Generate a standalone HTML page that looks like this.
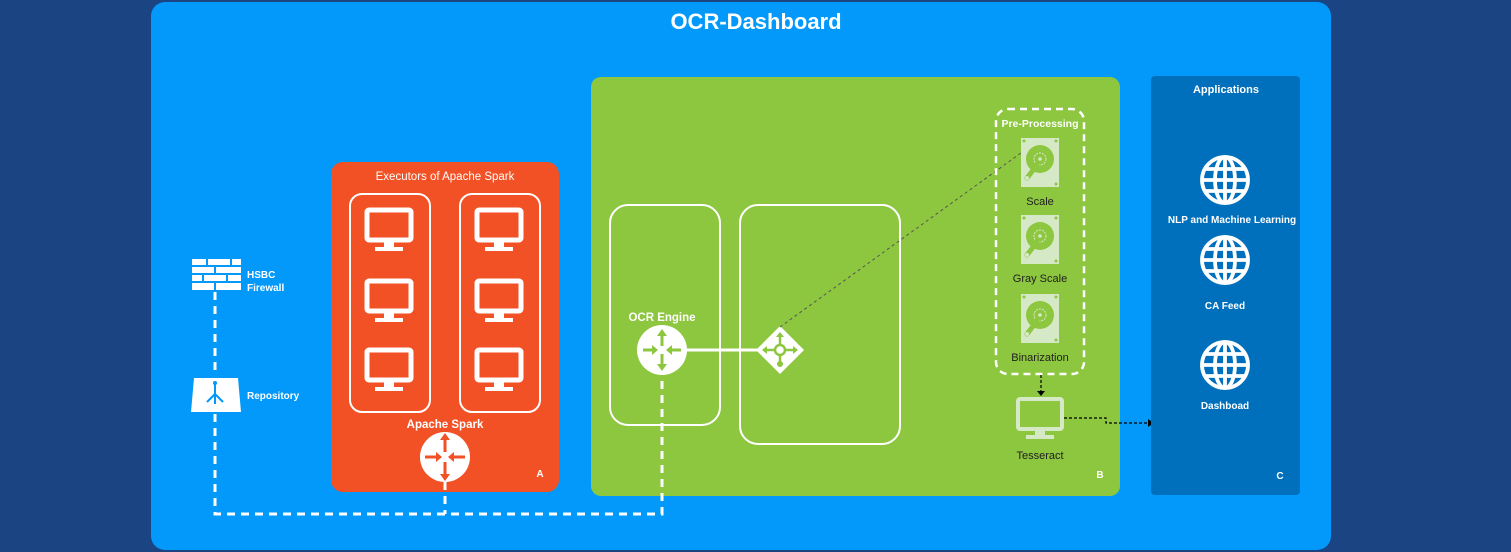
<!DOCTYPE html>
<html><head><meta charset="utf-8"><style>
html,body{margin:0;padding:0;background:#1b4482;width:1511px;height:552px;overflow:hidden}
svg{display:block}
text{font-family:"Liberation Sans",Arial,sans-serif;fill:#fff}
</style></head><body>
<svg width="1511" height="552" viewBox="0 0 1511 552" xmlns="http://www.w3.org/2000/svg">
<defs>
<g id="mon"><rect x="2" y="2" width="44" height="30" rx="2" fill="none" stroke="#fff" stroke-width="5"/><rect x="19" y="33" width="10" height="6" fill="#fff"/><rect x="10" y="39" width="28" height="4" fill="#fff"/></g>
<g id="globe" fill="none" stroke="#fff" stroke-width="3.8"><circle r="23"/><ellipse rx="10" ry="23"/><line x1="0" y1="-23" x2="0" y2="23"/><line x1="-23" y1="0" x2="23" y2="0"/><line x1="-19" y1="-11" x2="19" y2="-11"/><line x1="-19" y1="11" x2="19" y2="11"/></g>
<g id="disk"><rect x="0" y="0" width="38" height="49" fill="#d6e9c6"/><circle cx="19" cy="21" r="14" fill="#8dc63f"/><circle cx="19" cy="21" r="6" fill="none" stroke="#d6e9c6" stroke-width="1" stroke-dasharray="2 1"/><circle cx="19" cy="21" r="1.8" fill="#d6e9c6"/><line x1="16" y1="27" x2="6" y2="40" stroke="#8dc63f" stroke-width="5" stroke-linecap="round"/><circle cx="6" cy="40" r="2" fill="#d6e9c6"/><circle cx="3" cy="3" r="1.5" fill="#8dc63f"/><circle cx="35" cy="3" r="1.5" fill="#8dc63f"/><circle cx="35" cy="46" r="1.5" fill="#8dc63f"/></g>
</defs>

<rect x="151" y="2" width="1180" height="548" rx="14" fill="#0299fb"/>
<text x="756" y="29" font-size="22" font-weight="bold" text-anchor="middle">OCR-Dashboard</text>

<!-- orange -->
<rect x="331" y="162" width="228" height="330" rx="12" fill="#f15125"/>
<text x="445" y="180" font-size="11.5" text-anchor="middle">Executors of Apache Spark</text>
<rect x="350" y="194" width="80" height="218" rx="12" fill="none" stroke="#fff" stroke-width="2"/>
<rect x="460" y="194" width="80" height="218" rx="12" fill="none" stroke="#fff" stroke-width="2"/>
<use href="#mon" x="365" y="208"/><use href="#mon" x="475" y="208"/>
<use href="#mon" x="365" y="279"/><use href="#mon" x="475" y="279"/>
<use href="#mon" x="365" y="348"/><use href="#mon" x="475" y="348"/>
<text x="445" y="428" font-size="11.5" font-weight="bold" text-anchor="middle">Apache Spark</text>
<text x="540" y="477" font-size="10" font-weight="bold" text-anchor="middle">A</text>

<!-- firewall -->
<g fill="#fff">
<rect x="192" y="259" width="14" height="6"/><rect x="208" y="259" width="22" height="6"/><rect x="232" y="259" width="9" height="6"/>
<rect x="192" y="267" width="22" height="6"/><rect x="216" y="267" width="25" height="6"/>
<rect x="192" y="275" width="10" height="6"/><rect x="204" y="275" width="22" height="6"/><rect x="228" y="275" width="13" height="6"/>
<rect x="192" y="283" width="22" height="7"/><rect x="216" y="283" width="25" height="7"/>
</g>
<text x="247" y="278" font-size="10" font-weight="bold">HSBC</text>
<text x="247" y="291" font-size="10" font-weight="bold">Firewall</text>
<polygon points="194,378 238,378 241,412 191,412" fill="#fff"/>
<g stroke="#0299fb" stroke-width="2" fill="none"><line x1="215" y1="384" x2="215" y2="404"/><line x1="215" y1="394" x2="207" y2="402"/><line x1="215" y1="394" x2="223" y2="402"/></g>
<circle cx="215" cy="383" r="2" fill="#0299fb"/>
<text x="247" y="399" font-size="10" font-weight="bold">Repository</text>

<!-- green -->
<rect x="591" y="77" width="529" height="419" rx="10" fill="#8dc63f"/>
<rect x="610" y="205" width="110" height="220" rx="18" fill="none" stroke="#fff" stroke-width="2"/>
<rect x="740" y="205" width="160" height="239" rx="18" fill="none" stroke="#fff" stroke-width="2"/>

<!-- dashed path -->
<path d="M215,292 V376 M215,414 V514 H662 V372" fill="none" stroke="#fff" stroke-width="3" stroke-dasharray="8 6"/>
<line x1="445" y1="482" x2="445" y2="514" stroke="#fff" stroke-width="3" stroke-dasharray="8 6"/>

<circle cx="445" cy="457" r="25" fill="#fff"/>
<g fill="none" stroke="#f15125" stroke-width="3"><line x1="445" y1="452" x2="445" y2="436"/><line x1="445" y1="462" x2="445" y2="478"/><line x1="425" y1="457" x2="438" y2="457"/><line x1="465" y1="457" x2="452" y2="457"/></g>
<g fill="#f15125"><polygon points="440,440 450,440 445,433"/><polygon points="440,474 450,474 445,481"/><polygon points="436,452 436,462 442,457"/><polygon points="454,452 454,462 448,457"/></g>

<text x="662" y="321" font-size="11.5" font-weight="bold" text-anchor="middle">OCR Engine</text>
<line x1="686" y1="350" x2="760" y2="350" stroke="#fff" stroke-width="3"/>
<circle cx="662" cy="350" r="25" fill="#fff"/>
<g stroke="#8dc63f" stroke-width="3"><line x1="662" y1="346" x2="662" y2="332"/><line x1="662" y1="354" x2="662" y2="368"/><line x1="643" y1="350" x2="656" y2="350"/><line x1="681" y1="350" x2="668" y2="350"/></g>
<g fill="#8dc63f"><polygon points="657,336 667,336 662,329"/><polygon points="657,364 667,364 662,371"/><polygon points="652,345 652,355 658,350"/><polygon points="672,345 672,355 666,350"/></g>
<polygon points="780,326 804,350 780,374 756,350" fill="#fff"/>
<g stroke="#8dc63f" stroke-width="2.5"><line x1="780" y1="350" x2="780" y2="335"/><line x1="780" y1="350" x2="765" y2="350"/><line x1="780" y1="350" x2="795" y2="350"/><line x1="780" y1="350" x2="780" y2="364"/></g>
<g fill="#8dc63f"><polygon points="776,337 784,337 780,332"/><polygon points="767,346 767,354 762,350"/><polygon points="793,346 793,354 798,350"/></g>
<circle cx="780" cy="350" r="5" fill="#fff" stroke="#8dc63f" stroke-width="2.5"/>
<circle cx="780" cy="364" r="3" fill="#8dc63f"/>
<line x1="780" y1="327" x2="1032" y2="145" stroke="#555" stroke-width="1" stroke-dasharray="3 3"/>

<rect x="996" y="109" width="88" height="265" rx="12" fill="none" stroke="#fff" stroke-width="2.5" stroke-dasharray="7 5"/>
<text x="1040" y="127" font-size="10.5" font-weight="bold" text-anchor="middle">Pre-Processing</text>
<use href="#disk" x="1021" y="138"/>
<text x="1040" y="205" font-size="11" text-anchor="middle" style="fill:#1f1f1f">Scale</text>
<use href="#disk" x="1021" y="215"/>
<text x="1040" y="282" font-size="11" text-anchor="middle" style="fill:#1f1f1f">Gray Scale</text>
<use href="#disk" x="1021" y="294"/>
<text x="1040" y="361" font-size="11" text-anchor="middle" style="fill:#1f1f1f">Binarization</text>
<line x1="1041" y1="375" x2="1041" y2="392" stroke="#000" stroke-width="1.2" stroke-dasharray="3 2"/>
<polygon points="1037,391 1045,391 1041,396" fill="#000"/>
<g transform="translate(1016,397)"><rect x="2" y="2" width="44" height="30" rx="2" fill="none" stroke="#d6e9c6" stroke-width="4"/><rect x="19" y="33" width="10" height="5" fill="#d6e9c6"/><rect x="10" y="38" width="28" height="4" fill="#d6e9c6"/></g>
<text x="1040" y="459" font-size="11" text-anchor="middle" style="fill:#1f1f1f">Tesseract</text>
<text x="1100" y="478" font-size="10" font-weight="bold" text-anchor="middle">B</text>
<path d="M1064,418 H1106 V423 H1148" fill="none" stroke="#000" stroke-width="1.2" stroke-dasharray="3 2"/>
<polygon points="1148,419 1148,427 1154,423" fill="#000"/>

<!-- apps -->
<rect x="1151" y="76" width="149" height="419" rx="4" fill="#0070bd"/>
<text x="1226" y="93" font-size="11" font-weight="bold" text-anchor="middle">Applications</text>
<use href="#globe" x="1225" y="180"/>
<text x="1232" y="223" font-size="10" font-weight="bold" text-anchor="middle">NLP and Machine Learning</text>
<use href="#globe" x="1225" y="260"/>
<text x="1225" y="309" font-size="10" font-weight="bold" text-anchor="middle">CA Feed</text>
<use href="#globe" x="1225" y="365"/>
<text x="1225" y="409" font-size="10" font-weight="bold" text-anchor="middle">Dashboad</text>
<text x="1280" y="479" font-size="10" font-weight="bold" text-anchor="middle">C</text>
</svg>
</body></html>
